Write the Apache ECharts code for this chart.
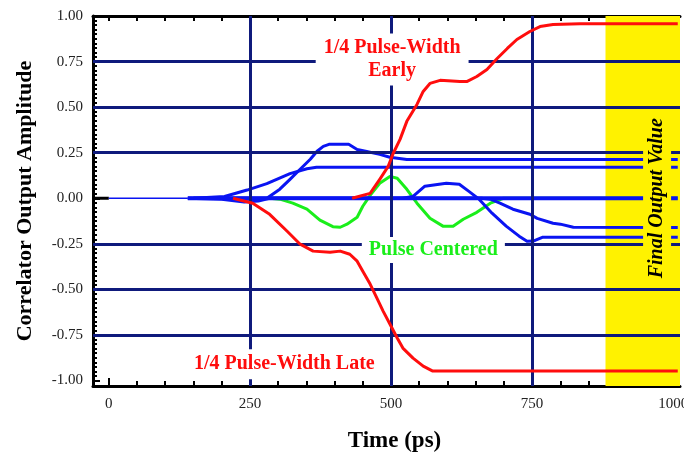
<!DOCTYPE html>
<html>
<head>
<meta charset="utf-8">
<script src="https://cdn.jsdelivr.net/npm/echarts@6.0.0/dist/echarts.min.js"></script>
<style>
  html, body { margin: 0; padding: 0; background: #ffffff; }
  #chart { width: 684px; height: 452px; }
</style>
</head>
<body>
<div id="chart"></div>
<script>
// Axis extents and tick positions
const xMin = -28, xMax = 1012;
const yMin = -1.03, yMax = 1.0;
const xLabelValues = [0, 250, 500, 750, 1000];
const yLabelValues = [-1, -0.75, -0.5, -0.25, 0, 0.25, 0.5, 0.75, 1];
const xMinorTicks = [];
for (let v = 0; v <= 1000; v += 50) xMinorTicks.push(v);
const yMinorTicks = [];
for (let i = -40; i <= 40; i++) yMinorTicks.push(+(i * 0.025).toFixed(3));

// Reference grid lines and the settling window
const hGrid = [0.75, 0.5, 0.25, -0.25, -0.5, -0.75];
const vGrid = [250, 500, 750];
const finalWindow = [880, 1012];

// Correlator outputs, [time ps, amplitude]
const earlyPts = [[431,0],[463,0.027],[480,0.104],[495,0.175],[504,0.247],[516,0.323],[528,0.422],[546,0.515],[557,0.586],[569,0.63],[587,0.647],[622,0.641],[635,0.641],[652,0.668],[670,0.707],[688,0.767],[706,0.822],[723,0.871],[746,0.915],[764,0.942],[787,0.953],[835,0.958],[1008,0.958]];
const latePts = [[220,0],[255,-0.027],[285,-0.088],[316,-0.181],[339,-0.252],[362,-0.29],[392,-0.296],[410,-0.29],[427,-0.307],[440,-0.345],[450,-0.4],[463,-0.471],[475,-0.548],[486,-0.619],[498,-0.69],[511,-0.767],[521,-0.822],[539,-0.877],[557,-0.921],[574,-0.948],[1008,-0.948]];
const centeredPts = [[285,0],[303,-0.005],[326,-0.027],[351,-0.06],[374,-0.12],[397,-0.156],[410,-0.159],[422,-0.142],[440,-0.104],[450,-0.044],[463,0.016],[480,0.082],[498,0.12],[511,0.11],[528,0.049],[546,-0.027],[569,-0.11],[592,-0.153],[610,-0.153],[628,-0.115],[652,-0.077],[676,-0.027],[699,0],[1008,0]];
const blueLead = [[0,0],[140,0]];
const blueZero = [[140,0],[1008,0]];
const bluePeak = [[150,0],[280,0],[303,0.05],[321,0.104],[339,0.159],[357,0.214],[369,0.258],[380,0.285],[390,0.296],[425,0.296],[440,0.268],[457,0.257],[480,0.241],[498,0.225],[528,0.213],[1008,0.213]];
const blueRamp = [[150,0],[205,0.01],[245,0.045],[280,0.08],[321,0.135],[351,0.162],[368,0.17],[1008,0.17]];
const blueDip = [[140,0],[200,-0.005],[240,-0.02],[265,-0.015],[285,0],[520,0],[539,0.01],[560,0.066],[598,0.082],[621,0.077],[638,0.038],[656,-0.005],[679,-0.082],[704,-0.153],[727,-0.208],[741,-0.236],[752,-0.235],[768,-0.214],[1008,-0.214]];
const blueSlow = [[140,0],[660,0],[676,-0.005],[693,-0.027],[716,-0.06],[746,-0.088],[759,-0.11],[787,-0.137],[800,-0.142],[823,-0.159],[1008,-0.16]];
const zeroStub = [[-28,0],[0,0]];

// Annotation anchors, [time ps, amplitude]
const earlyLabelAt = [502, 0.80];
const centeredLabelAt = [575, -0.245];
const lateLabelAt = [311, -0.872];
const windowLabelAt = [959, 0.0];

const NAVY = '#0f1a7c';
const BLUE = '#0a14f2';
const RED = '#ff0d0d';
const GREEN = '#1aee1a';
const YELLOW = '#fff200';
const SERIF = '"Liberation Serif", "DejaVu Serif", serif';

const chart = echarts.init(document.getElementById('chart'), null, { renderer: 'canvas' });

function curve(name, data, color, width, z) {
  return {
    name, type: 'line', data, z,
    symbol: 'none', silent: true, animation: false,
    lineStyle: { color, width, cap: 'butt', join: 'round' }
  };
}

const labelBase = {
  show: true, position: [0, 0], align: 'center', verticalAlign: 'middle',
  fontFamily: SERIF, fontWeight: 'bold', fontSize: 20,
  backgroundColor: '#ffffff', opacity: 1
};

chart.setOption({
  animation: false,
  backgroundColor: '#ffffff',
  grid: { left: 93, top: 16, width: 587, height: 370, containLabel: false, outerBoundsMode: 'none' },
  xAxis: [
    {
      type: 'value', min: xMin, max: xMax, position: 'bottom',
      name: 'Time (ps)', nameLocation: 'middle', nameGap: 44,
      nameTextStyle: { fontFamily: SERIF, fontWeight: 'bold', fontSize: 23, color: '#000', padding: [0, 0, 0, 16] },
      axisLine: { show: true, onZero: false, lineStyle: { color: '#000', width: 3 } },
      axisTick: { show: true, inside: true, length: 5, customValues: xMinorTicks, lineStyle: { color: '#000', width: 2 } },
      axisLabel: { customValues: xLabelValues, margin: 11, fontFamily: SERIF, fontSize: 15, color: '#222',
                   formatter: v => String(v) },
      splitLine: { show: false }
    },
    {
      type: 'value', min: xMin, max: xMax, position: 'bottom',
      axisLine: { show: false, onZero: false },
      axisTick: { show: true, inside: true, length: 8, customValues: xLabelValues, lineStyle: { color: '#000', width: 2 } },
      axisLabel: { show: false }, splitLine: { show: false }
    },
    {
      type: 'value', min: xMin, max: xMax, position: 'top',
      axisLine: { show: true, onZero: false, lineStyle: { color: '#000', width: 3 } },
      axisTick: { show: true, inside: true, length: 5, customValues: xMinorTicks, lineStyle: { color: '#000', width: 2 } },
      axisLabel: { show: false }, splitLine: { show: false }
    }
  ],
  yAxis: [
    {
      type: 'value', min: yMin, max: yMax, position: 'left',
      name: 'Correlator Output Amplitude', nameLocation: 'middle', nameGap: 57,
      nameTextStyle: { fontFamily: SERIF, fontWeight: 'bold', fontSize: 22, color: '#000' },
      axisLine: { show: true, onZero: false, lineStyle: { color: '#000', width: 3 } },
      axisTick: { show: true, inside: true, length: 7, customValues: yLabelValues, lineStyle: { color: '#000', width: 2 } },
      axisLabel: { customValues: yLabelValues, margin: 10, fontFamily: SERIF, fontSize: 15, color: '#222',
                   formatter: v => v.toFixed(2) },
      splitLine: { show: false }
    },
    {
      type: 'value', min: yMin, max: yMax, position: 'left',
      axisLine: { show: false, onZero: false },
      axisTick: { show: true, inside: true, length: 4, customValues: yMinorTicks, lineStyle: { color: '#000', width: 2 } },
      axisLabel: { show: false }, splitLine: { show: false }
    }
  ],
  series: [
    {
      name: 'window', type: 'line', data: [], z: 1, silent: true,
      markArea: {
        silent: true,
        itemStyle: { color: YELLOW, opacity: 1 },
        data: [[{ xAxis: finalWindow[0] }, { xAxis: finalWindow[1] }]]
      }
    },
    {
      name: 'grid', type: 'line', data: zeroStub, z: 2, symbol: 'none', silent: true,
      lineStyle: { color: '#000', width: 3 },
      markLine: {
        silent: true, symbol: ['none', 'none'], label: { show: false },
        lineStyle: { color: NAVY, width: 3, type: 'solid', opacity: 1 },
        data: hGrid.map(v => ({ yAxis: v })).concat(vGrid.map(v => ({ xAxis: v })))
      }
    },
    curve('Pulse Centered', centeredPts, GREEN, 3, 3),
    curve('lead', blueLead, BLUE, 1.5, 4),
    curve('zero', blueZero, BLUE, 4, 4),
    curve('peak', bluePeak, BLUE, 3, 4),
    curve('ramp', blueRamp, BLUE, 3, 4),
    curve('dip', blueDip, BLUE, 3, 4),
    curve('slow', blueSlow, BLUE, 3, 4),
    curve('1/4 Pulse-Width Early', earlyPts, RED, 3, 12),
    curve('1/4 Pulse-Width Late', latePts, RED, 3, 12),
    {
      name: 'annotations', type: 'scatter', z: 10, symbolSize: 0, silent: true,
      itemStyle: { opacity: 1 },
      data: [
        { value: earlyLabelAt, label: Object.assign({}, labelBase, {
            formatter: '1/4 Pulse-Width\nEarly', color: RED, lineHeight: 23, padding: [4, 8, 2, 8], offset: [0, 7] }) },
        { value: centeredLabelAt, label: Object.assign({}, labelBase, {
            formatter: 'Pulse Centered', color: GREEN, padding: [3, 7], offset: [0, 7] }) },
        { value: lateLabelAt, label: Object.assign({}, labelBase, {
            formatter: '1/4 Pulse-Width Late', color: RED, padding: [5, 6], offset: [0, 7] }) },
        { value: windowLabelAt, label: Object.assign({}, labelBase, {
            formatter: 'Final Output Value', color: '#000', fontStyle: 'italic', fontSize: 20,
            rotate: 90, backgroundColor: YELLOW, padding: [4, 3], offset: [0, 7] }) }
      ]
    }
  ]
});
</script>
</body>
</html>
